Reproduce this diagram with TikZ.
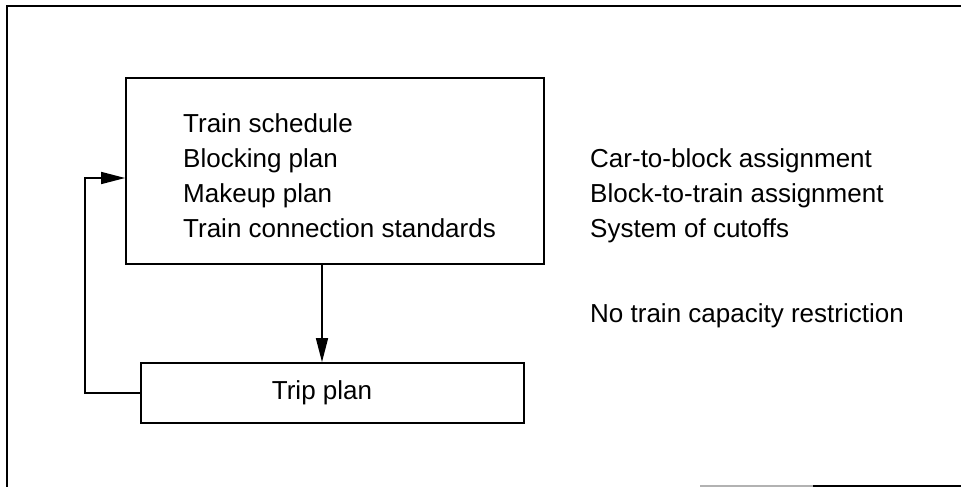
\documentclass[tikz,border=0pt]{standalone}
\usepackage{fontspec}
\setmainfont{Liberation Sans}
\usetikzlibrary{positioning,arrows.meta}

\begin{document}
\begin{tikzpicture}[x=1pt,y=-1pt,
  frame/.style={line width=2.4pt},
  planbox/.style={draw,line width=1.8pt,rectangle,inner sep=0pt},
  item/.style={font=\fontsize{26}{31}\selectfont,inner sep=0pt,anchor=base west},
  link/.style={line width=1.6pt,-{Triangle[length=24pt,width=12pt]}}]
\useasboundingbox (0,0) rectangle (961,487);
% outer frame (open at right)
\draw[frame] (961,6) -- (7,6) -- (7,487);
\draw[frame,black!30,line width=1.5pt] (700,486) -- (813,486);
\draw[frame] (813,486) -- (961,486);
% boxes
\node[planbox,minimum width=418pt,minimum height=186pt] (plans) at (335,171) {};
\node[planbox,minimum width=383pt,minimum height=60pt] (trip) at (332.5,393) {};
\node[item,anchor=center] (triplabel) at (322,393) {Trip plan};
% contents of the plan box
\node[item] (sched) at (183,132) {Train schedule};
\node[item] (block) at (183,167) {Blocking plan};
\node[item] (makeup) at (183,202) {Makeup plan};
\node[item] (conn) at (183,237) {Train connection standards};
% notes on the right
\node[item] (cartoblock) at (590,167) {Car-to-block assignment};
\node[item] (blocktotrain) at (590,202) {Block-to-train assignment};
\node[item] (cutoffs) at (590,237) {System of cutoffs};
\node[item] (nocap) at (590,322) {No train capacity restriction};
% connectors
\coordinate (turn) at (85,393);
\draw[link] (plans.south -| triplabel) -- (triplabel |- trip.north);
\draw[link] (trip.west) -- (turn) |- ([yshift=-7pt]plans.west);
\end{tikzpicture}
\end{document}
